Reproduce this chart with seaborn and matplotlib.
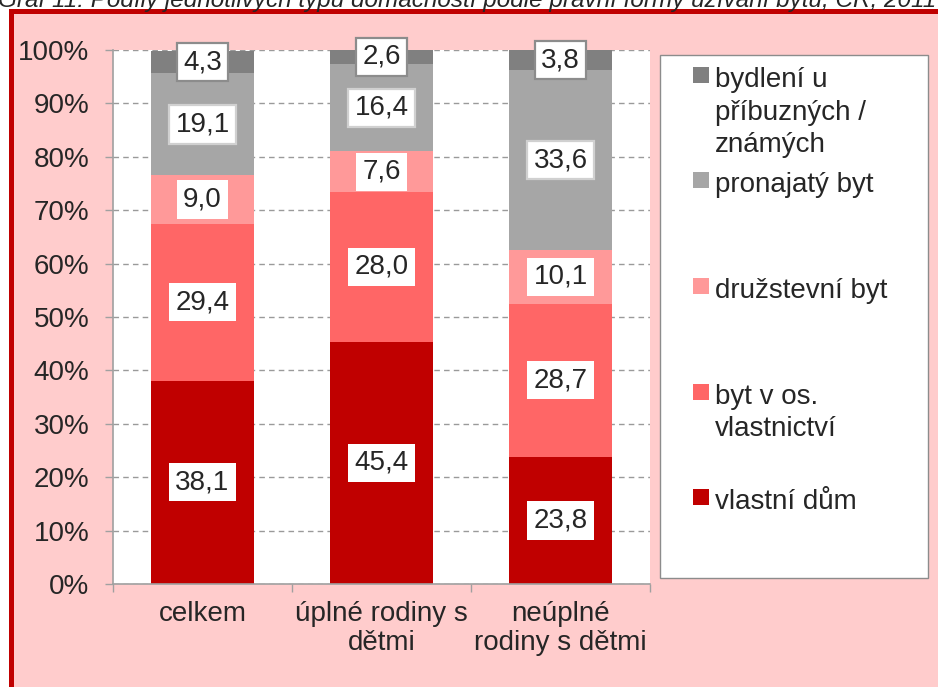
import matplotlib
matplotlib.use('Agg')
import matplotlib.pyplot as plt
import seaborn as sns
import pandas as pd
from matplotlib.patches import Rectangle

# ---- data ----
categories = ['celkem', 'úplné rodiny s\ndětmi', 'neúplné\nrodiny s dětmi']
series = ['vlastní dům', 'byt v os. vlastnictví', 'družstevní byt',
          'pronajatý byt', 'bydlení u příbuzných / známých']
legend_labels = ['vlastní dům', 'byt v os.\nvlastnictví', 'družstevní byt',
                 'pronajatý byt', 'bydlení u\npříbuzných /\nznámých']
vlastni_dum = [38.1, 45.4, 23.8]
byt_os_vlastnictvi = [29.4, 28.0, 28.7]
druzstevni_byt = [9.0, 7.6, 10.1]
pronajaty_byt = [19.1, 16.4, 33.6]
bydleni_u_pribuznych = [4.3, 2.6, 3.8]
values = [vlastni_dum, byt_os_vlastnictvi, druzstevni_byt, pronajaty_byt, bydleni_u_pribuznych]
colors = ['#C00000', '#FF6666', '#FF9999', '#A6A6A6', '#808080']
yticks = [0, 10, 20, 30, 40, 50, 60, 70, 80, 90, 100]
ytick_labels = [f'{t}%' for t in yticks]
title = 'Graf 11: Podíly jednotlivých typů domácností podle právní formy užívání bytu, ČR, 2011'

sns.set_style('white')
plt.rcParams['font.family'] = ['Liberation Sans', 'DejaVu Sans']

W, H = 938, 687
fig = plt.figure(figsize=(W / 100, H / 100), dpi=100, facecolor='white')

def fx(px):
    return px / W

def fy(py):
    return 1 - py / H

# background panel with red frame
fig.add_artist(Rectangle((fx(10.5), -0.05), 1.2, fy(11) + 0.05, transform=fig.transFigure,
                         facecolor='#FFCCCC', edgecolor='#C00000', linewidth=3.6, zorder=-10))

# cut-off title at top (as in the reference)
fig.text(fx(-2), fy(6.5), title, fontsize=17.5, style='italic', ha='left', va='baseline')

ax = fig.add_axes([fx(113), fy(584), (650 - 113) / W, (584 - 50) / H])
ax.set_facecolor('white')

# long-form data and cumulative stacking
rows = []
for s, vals in zip(series, values):
    for c, v in zip(categories, vals):
        rows.append({'kategorie': c, 'typ': s, 'podil': v})
df = pd.DataFrame(rows)
df['typ'] = pd.Categorical(df['typ'], categories=series, ordered=True)
df = df.sort_values(['kategorie', 'typ'])
df['cum'] = df.groupby('kategorie')['podil'].cumsum()
df['bottom'] = df['cum'] - df['podil']

for i in range(len(series) - 1, -1, -1):
    sub = df[df['typ'] == series[i]]
    sns.barplot(data=sub, x='kategorie', y='cum', order=categories, color=colors[i],
                saturation=1, width=0.57, linewidth=0, errorbar=None, ax=ax, zorder=2)

# value labels
for _, r in df.iterrows():
    j = categories.index(r['kategorie'])
    si = series.index(r['typ'])
    if si == 4:
        ec, lw = '#8C8C8C', 1.6
    elif si == 3:
        ec, lw = '#D0D0D0', 1.6
    else:
        ec, lw = 'white', 0
    ax.text(j, r['bottom'] + r['podil'] / 2, f"{r['podil']:.1f}".replace('.', ','),
            ha='center', va='center', fontsize=20, zorder=6,
            bbox=dict(boxstyle='square,pad=0.22', facecolor='white', edgecolor=ec, linewidth=lw))

ax.set_xlim(-0.5, 2.5)
ax.set_ylim(0, 100)
ax.set_yticks(yticks)
ax.set_yticklabels(ytick_labels)
ax.set_xlabel('')
ax.set_ylabel('')
ax.set_axisbelow(True)
ax.yaxis.grid(True, color='#9A9A9A', linestyle=(0, (4, 3)), linewidth=1)
ax.xaxis.grid(False)
for sp in ['top', 'right']:
    ax.spines[sp].set_visible(False)
for sp in ['left', 'bottom']:
    ax.spines[sp].set_color('#A0A0A0')
    ax.spines[sp].set_linewidth(1.2)
ax.tick_params(axis='y', direction='out', length=6, width=1, color='#A0A0A0',
               labelsize=20, pad=11, left=True)
ax.tick_params(axis='x', which='major', length=0, labelsize=20, pad=12)
ax.set_xticks([-0.5, 0.5, 1.5, 2.5], minor=True)
ax.tick_params(axis='x', which='minor', direction='out', length=6, width=1,
               color='#A0A0A0', bottom=True)
for lab in ax.get_xticklabels():
    lab.set_linespacing(1.15)

# legend box
fig.add_artist(Rectangle((fx(660), fy(578)), (928 - 660) / W, (578 - 55) / H,
                         transform=fig.transFigure, facecolor='white',
                         edgecolor='#8C8C8C', linewidth=1, zorder=1))
for k, idx in enumerate(range(len(series) - 1, -1, -1)):
    base = 87 + k * 105.5
    fig.add_artist(Rectangle((fx(693), fy(base - 4)), 16 / W, 16 / H,
                             transform=fig.transFigure, facecolor=colors[idx],
                             edgecolor='none', zorder=2))
    for li, line in enumerate(legend_labels[idx].split('\n')):
        fig.text(fx(715), fy(base + li * 32.5), line, fontsize=20, ha='left',
                 va='baseline', zorder=3)

fig.savefig('out.png', dpi=100, facecolor=fig.get_facecolor())
